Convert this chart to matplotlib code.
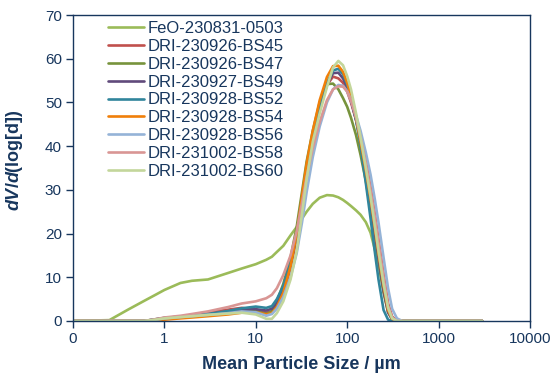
import matplotlib
matplotlib.use("Agg")
import matplotlib.pyplot as plt
from matplotlib.ticker import FixedLocator, FixedFormatter, NullLocator

plt.rcParams["font.family"] = ["Liberation Sans", "DejaVu Sans"]
plt.rcParams["mathtext.fontset"] = "custom"
plt.rcParams["mathtext.rm"] = "Liberation Sans:bold"
plt.rcParams["mathtext.it"] = "Liberation Sans:italic:bold"
plt.rcParams["mathtext.bf"] = "Liberation Sans:bold"

NAVY = "#17365D"

# particle size grid (µm) shared by all curves
size_um = [0.1, 0.25, 0.4, 0.6, 0.8, 1, 1.5, 2, 3, 5, 7, 10, 13, 15, 17, 20, 24, 28, 32, 36,
           42, 50, 60, 70, 80, 90, 100, 110, 125, 140, 160, 180, 200, 220, 250, 280, 310,
           350, 400, 1000, 3000]

feo_0503 = [0, 0.2, 2.6, 4.6, 6.0, 7.1, 8.7, 9.2, 9.5, 11.0, 12.0, 13.0, 14.0, 14.7, 15.8, 17.2,
            19.6, 21.5, 23.4, 25.0, 26.8, 28.2, 28.8, 28.7, 28.3, 27.7, 27.0, 26.3, 25.3, 24.3,
            22.6, 20.2, 16.5, 13.0, 7.0, 2.5, 0.6, 0, 0, 0, 0]
bs45 = [0, 0, 0, 0, 0.4, 0.7, 1.0, 1.4, 2.0, 2.6, 3.0, 2.6, 1.9, 2.2, 3.6, 6.5, 12.0, 19.0, 27.0,
        34.0, 41.5, 48.5, 54.0, 55.9, 55.5, 54.5, 52.5, 50.0, 46.0, 42.0, 36.5, 30.5, 24.5, 18.5,
        10.5, 4.0, 1.0, 0, 0, 0, 0]
bs47 = [0, 0, 0, 0, 0.3, 0.6, 0.9, 1.1, 1.5, 1.9, 2.3, 2.3, 1.6, 2.2, 4.5, 8.5, 14.5, 21.5, 29.5,
        36.5, 43.5, 50.0, 54.2, 54.3, 53.0, 51.0, 49.0, 46.5, 42.5, 38.0, 32.0, 25.5, 19.5, 13.5,
        6.5, 2.0, 0.4, 0, 0, 0, 0]
bs49 = [0, 0, 0, 0, 0.3, 0.6, 0.9, 1.2, 1.6, 2.1, 2.6, 2.7, 2.4, 2.8, 4.3, 7.5, 13.0, 19.5, 27.5,
        34.5, 42.0, 48.5, 54.0, 56.7, 56.8, 55.5, 53.5, 50.5, 46.0, 41.0, 34.0, 27.0, 20.5, 14.5,
        7.0, 2.0, 0.4, 0, 0, 0, 0]
bs52 = [0, 0, 0, 0, 0.4, 0.7, 1.0, 1.2, 1.6, 2.3, 2.9, 3.3, 3.0, 3.4, 5.0, 8.0, 13.5, 20.0, 28.0,
        35.0, 42.5, 49.0, 54.5, 57.3, 57.7, 56.5, 54.0, 51.0, 46.0, 40.0, 31.5, 23.5, 16.0, 9.5,
        2.5, 0.3, 0, 0, 0, 0, 0]
bs54 = [0, 0, 0, 0, 0, 0.3, 0.6, 0.8, 1.1, 1.5, 1.9, 2.0, 1.5, 1.8, 3.2, 6.5, 12.5, 20.0, 28.5,
        36.0, 43.5, 50.5, 55.8, 58.3, 58.4, 57.0, 54.5, 51.5, 46.5, 41.0, 34.5, 28.0, 21.5, 15.5,
        8.0, 2.5, 0.5, 0, 0, 0, 0]
bs56 = [0, 0, 0, 0, 0.3, 0.6, 0.9, 1.1, 1.4, 1.8, 2.2, 2.0, 1.2, 1.6, 2.8, 5.5, 10.0, 15.5, 22.5,
        29.5, 37.5, 44.5, 50.0, 53.0, 54.0, 53.8, 52.5, 50.5, 47.0, 43.5, 38.5, 33.5, 28.0, 22.5,
        14.5, 7.5, 2.8, 0.6, 0, 0, 0]
bs58 = [0, 0, 0, 0, 0.4, 0.8, 1.2, 1.6, 2.2, 3.2, 4.0, 4.5, 5.2, 6.0, 7.5, 10.5, 15.0, 20.5, 27.0,
        33.0, 39.5, 45.5, 50.5, 53.0, 53.7, 53.6, 52.5, 50.5, 46.5, 42.0, 36.0, 30.0, 24.0, 18.0,
        10.0, 3.5, 0.8, 0, 0, 0, 0]
bs60 = [0, 0, 0, 0, 0.3, 0.6, 0.9, 1.1, 1.4, 1.7, 1.9, 1.5, 0.5, 0.5, 1.8, 4.5, 9.5, 16.0, 24.5,
        32.5, 41.0, 47.5, 53.5, 58.0, 59.5, 58.5, 56.0, 53.0, 47.5, 42.0, 35.0, 28.5, 22.0, 16.0,
        8.5, 3.0, 0.6, 0, 0, 0, 0]

series = [
    ("FeO-230831-0503", feo_0503, "#9BBB59"),
    ("DRI-230926-BS45", bs45, "#C0504D"),
    ("DRI-230926-BS47", bs47, "#77933C"),
    ("DRI-230927-BS49", bs49, "#604A7B"),
    ("DRI-230928-BS52", bs52, "#31859C"),
    ("DRI-230928-BS54", bs54, "#F07F09"),
    ("DRI-230928-BS56", bs56, "#95B3D7"),
    ("DRI-231002-BS58", bs58, "#D99694"),
    ("DRI-231002-BS60", bs60, "#C3D69B"),
]

x_ticks = [0.1, 1, 10, 100, 1000, 10000]
x_tick_labels = ["0", "1", "10", "100", "1000", "10000"]
y_ticks = [0, 10, 20, 30, 40, 50, 60, 70]

fig = plt.figure(figsize=(5.56, 3.75), dpi=100)
ax = fig.add_axes([73 / 556, 54 / 375, 457 / 556, 306 / 375])

for label, values, color in series:
    ax.plot(size_um, values, color=color, lw=1.9, label=label, solid_capstyle="round")

ax.set_xscale("log")
ax.set_xlim(0.1, 10000)
ax.set_ylim(0, 70)
ax.xaxis.set_major_locator(FixedLocator(x_ticks))
ax.xaxis.set_major_formatter(FixedFormatter(x_tick_labels))
ax.xaxis.set_minor_locator(NullLocator())
ax.set_yticks(y_ticks)

for spine in ax.spines.values():
    spine.set_color(NAVY)
    spine.set_linewidth(1.0)
ax.tick_params(axis="both", direction="out", length=5, width=1.0, color=NAVY,
               labelcolor=NAVY, labelsize=11, pad=3)

ax.set_xlabel("Mean Particle Size / µm", fontsize=13, fontweight="bold", color=NAVY)
ax.set_ylabel(r"$\mathit{dV/d}$(log[d])", fontsize=13, fontweight="bold", color=NAVY)
ax.xaxis.set_label_coords(0.5, -0.115)
ax.yaxis.set_label_coords(-0.105, 0.525)

leg = ax.legend(loc="upper left", bbox_to_anchor=(0.076, 0.98), frameon=False,
                fontsize=12, handlelength=2.2, handletextpad=0.2, labelspacing=0.17,
                borderpad=0, borderaxespad=0)
for text in leg.get_texts():
    text.set_color(NAVY)

fig.savefig("out.png", dpi=100)
